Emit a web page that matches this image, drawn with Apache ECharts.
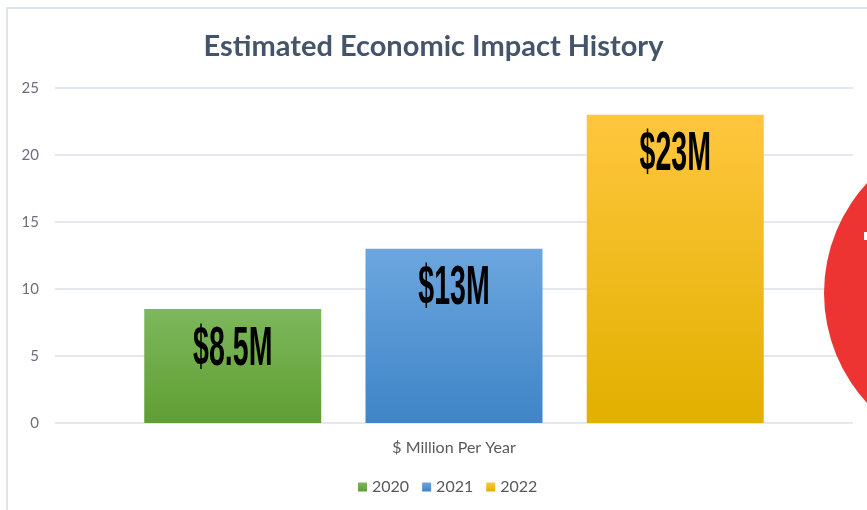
<!DOCTYPE html>
<html>
<head>
<meta charset="utf-8">
<script src="https://cdn.jsdelivr.net/npm/echarts@6/dist/echarts.min.js"></script>
<style>
  html, body { margin: 0; padding: 0; background: #fff; }
  #main { width: 867px; height: 510px; }
</style>
</head>
<body>
<div id="main"></div>
<script>
// data
const category = ['$ Million Per Year'];
const years = ['2020', '2021', '2022'];
const values = [8.5, 13, 23];
const labels = ['$8.5M', '$13M', '$23M'];
const colorsTop = ['#7db85d', '#6ca6de', '#ffc63e'];
const colorsBottom = ['#5f9e32', '#3f85c7', '#e1b000'];

const uiFont = 'Lato, "Open Sans", sans-serif';

const chart = echarts.init(document.getElementById('main'));

const series = years.map(function (y, i) {
  return {
    name: y,
    type: 'bar',
    barWidth: 177,
    barGap: '25%',
    data: [values[i]],
    itemStyle: {
      color: new echarts.graphic.LinearGradient(0, 0, 0, 1, [
        { offset: 0, color: colorsTop[i] },
        { offset: 1, color: colorsBottom[i] }
      ])
    }
  };
});

const option = {
  backgroundColor: '#fff',
  animation: false,
  color: colorsBottom,
  title: {
    text: 'Estimated Economic Impact History',
    left: 'center',
    top: 27,
    textStyle: {
      fontFamily: uiFont,
      fontSize: 29,
      fontWeight: 'bold',
      color: '#44546a'
    }
  },
  legend: {
    bottom: 10,
    left: 353,
    itemWidth: 9,
    itemHeight: 9,
    itemGap: 13,
    icon: 'rect',
    textStyle: { color: '#595959', fontSize: 16, fontFamily: uiFont },
    data: years
  },
  grid: { left: 55, right: 14, top: 88, bottom: 87 },
  xAxis: {
    type: 'category',
    data: category,
    axisLine: { show: false },
    axisTick: { show: false },
    axisLabel: {
      margin: 17,
      color: '#595959',
      fontSize: 16,
      fontFamily: uiFont
    }
  },
  yAxis: {
    type: 'value',
    min: 0,
    max: 25,
    interval: 5,
    axisLine: { show: false },
    axisTick: { show: false },
    axisLabel: {
      margin: 16,
      color: '#6b6f7a',
      fontSize: 15,
      fontFamily: uiFont
    },
    splitLine: { lineStyle: { color: '#e4e8ef', width: 2 } }
  },
  series: series,
  graphic: [
    {
      type: 'rect',
      shape: { x: 7, y: 8, width: 900, height: 520 },
      style: { fill: 'none', stroke: '#dfe3ea', lineWidth: 2 },
      z: -1
    },
    {
      type: 'circle',
      shape: { cx: 986, cy: 293, r: 162 },
      style: { fill: '#ee3333' },
      z: 10
    },
    {
      type: 'rect',
      shape: { x: 864, y: 232, width: 3, height: 8 },
      style: { fill: '#ffffff' },
      z: 11
    }
  ]
};

chart.setOption(option);

// condensed value labels: place over each bar using the bar layout from the library
const labelGraphics = [];
years.forEach(function (y, i) {
  const layout = chart.getModel().getSeriesByIndex(i).getData().getItemLayout(0);
  const cx = layout.x + layout.width / 2;
  const top = Math.min(layout.y, layout.y + layout.height);
  labelGraphics.push({
    type: 'text',
    x: cx,
    y: top + 40,
    scaleX: 0.51,
    z: 20,
    style: {
      text: labels[i],
      fill: '#000',
      font: 'bold 56px "Liberation Sans", Arial, sans-serif',
      textAlign: 'center',
      textVerticalAlign: 'middle'
    }
  });
});
chart.setOption({ graphic: option.graphic.concat(labelGraphics) });
</script>
</body>
</html>
